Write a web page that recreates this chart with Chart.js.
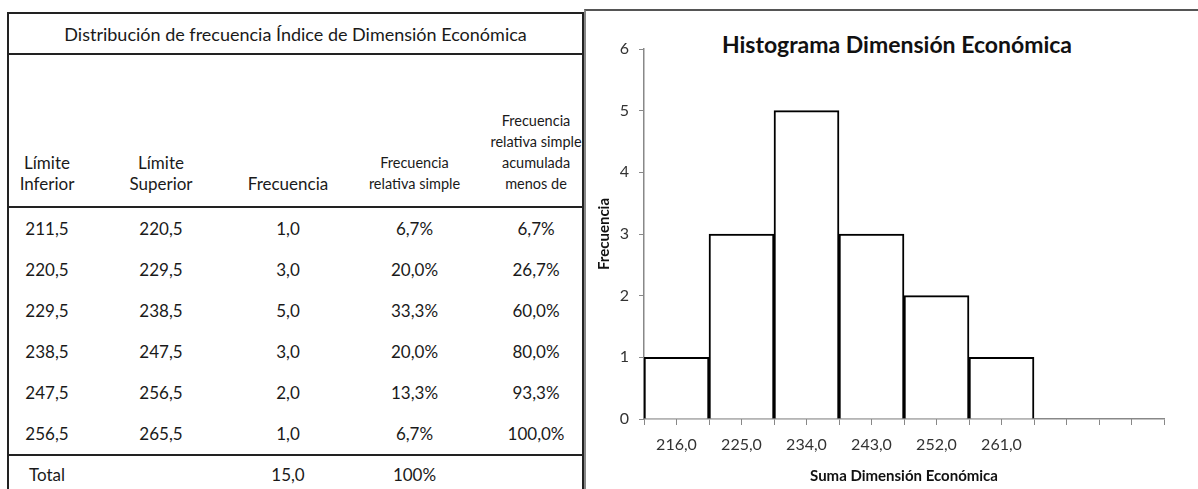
<!DOCTYPE html>
<html>
<head>
<meta charset="utf-8">
<script src="https://cdn.jsdelivr.net/npm/chart.js@4.4.0/dist/chart.umd.min.js"></script>
<style>
  body { margin: 0; background: #fff; width: 1198px; height: 489px; overflow: hidden; position: relative; font-family: "Lato", "Open Sans", sans-serif; color: #1a1a1a; }
  #tabla { position: absolute; left: 7px; top: 12px; width: 575px; table-layout: fixed; border-collapse: collapse; border-left: 2px solid #222; border-right: 2px solid #222; border-top: 2px solid #222; font-size: 17px; }
  #tabla td { text-align: center; padding: 0; white-space: nowrap; }
  #tabla .tit td { height: 39px; border-bottom: 2px solid #222; font-size: 18px; }
  #tabla .cab td { height: 139px; vertical-align: bottom; padding-bottom: 12px; border-bottom: 2px solid #222; line-height: 21px; }
  #tabla .cab td.pq { font-size: 14.5px; }
  #tabla .fila td { height: 41px; }
  #tabla .tot td { height: 32px; vertical-align: top; padding-top: 8px; border-top: 2px solid #222; }
  #panel { position: absolute; left: 584px; top: 9px; width: 614px; height: 480px; border-left: 2px solid #888; border-top: 2px solid #555; }
  #wrap { position: absolute; left: 586px; top: 11px; width: 612px; height: 478px; }
  #titulo { position: absolute; left: 700px; width: 394px; top: 30px; text-align: center; font-size: 23px; font-weight: bold; color: #111; }
</style>
</head>
<body>
<table id="tabla">
  <colgroup>
    <col style="width:77px"><col style="width:152px"><col style="width:102px"><col style="width:151px"><col style="width:93px">
  </colgroup>
  <tbody id="cuerpo">
    <tr class="tit"><td colspan="5">Distribución de frecuencia Índice de Dimensión Económica</td></tr>
    <tr class="cab">
      <td>Límite<br>Inferior</td>
      <td>Límite<br>Superior</td>
      <td>Frecuencia</td>
      <td class="pq">Frecuencia<br>relativa simple</td>
      <td class="pq">Frecuencia<br>relativa simple<br>acumulada<br>menos de</td>
    </tr>
  </tbody>
</table>
<div id="panel"></div>
<div id="titulo">Histograma Dimensión Económica</div>
<div id="wrap"><canvas id="histo"></canvas></div>

<script>
// datos de la tabla
const limiteInferior = ["211,5", "220,5", "229,5", "238,5", "247,5", "256,5"];
const limiteSuperior = ["220,5", "229,5", "238,5", "247,5", "256,5", "265,5"];
const frecuenciaTxt = ["1,0", "3,0", "5,0", "3,0", "2,0", "1,0"];
const relativa = ["6,7%", "20,0%", "33,3%", "20,0%", "13,3%", "6,7%"];
const acumulada = ["6,7%", "26,7%", "60,0%", "80,0%", "93,3%", "100,0%"];

// datos del histograma
const marcasClase = [216, 225, 234, 243, 252, 261];
const frecuencias = [1, 3, 5, 3, 2, 1];
const xCentros = [216, 225, 234, 243, 252, 261, 270, 279];
const xBordes = [211.5, 220.5, 229.5, 238.5, 247.5, 256.5, 265.5, 274.5, 283.5];
const yTicks = [0, 1, 2, 3, 4, 5, 6];

let cuerpo = document.getElementById("cuerpo");
for (let i = 0; i < limiteInferior.length; i++) {
    cuerpo.innerHTML += "<tr class='fila'><td>" + limiteInferior[i] + "</td><td>" + limiteSuperior[i] +
        "</td><td>" + frecuenciaTxt[i] + "</td><td>" + relativa[i] + "</td><td>" + acumulada[i] + "</td></tr>";
}
cuerpo.innerHTML += "<tr class='tot'><td>Total</td><td></td><td>15,0</td><td>100%</td><td></td></tr>";

const fuente = "'Lato', 'Open Sans', sans-serif";

new Chart(document.getElementById("histo"), {
    type: "bar",
    data: {
        datasets: [{
            label: "Frecuencia",
            data: marcasClase.map((m, i) => ({ x: m, y: frecuencias[i] })),
            backgroundColor: "#ffffff",
            borderColor: "#000000",
            borderWidth: 2,
            barPercentage: 1,
            categoryPercentage: 1
        }]
    },
    options: {
        responsive: true,
        maintainAspectRatio: false,
        animation: false,
        layout: { padding: { top: 38, right: 34, left: 0, bottom: 0 } },
        plugins: { legend: { display: false }, tooltip: { enabled: false } },
        scales: {
            x: {
                type: "linear",
                offset: false,
                weight: 1,
                min: 211.5,
                max: 283.5,
                afterBuildTicks: s => { s.ticks = xCentros.map(v => ({ value: v })); },
                afterFit: s => { s.height = 70; },
                grid: { drawOnChartArea: false, tickLength: 6, color: "#888" },
                border: { color: "#888", width: 1.5 },
                ticks: {
                    autoSkip: false,
                    maxRotation: 0,
                    padding: 10,
                    color: "#333",
                    font: { family: fuente, size: 16 },
                    callback: v => marcasClase.includes(v) ? v.toFixed(1).replace(".", ",") : ""
                },
                title: {
                    display: true,
                    text: "Suma Dimensión Económica",
                    color: "#111",
                    font: { family: fuente, size: 15, weight: "bold" },
                    padding: { top: 0, bottom: 4 }
                }
            },
            // eje auxiliar: solo marcas en los bordes de clase
            xb: {
                type: "linear",
                position: "bottom",
                offset: false,
                weight: 0,
                min: 211.5,
                max: 283.5,
                afterBuildTicks: s => { s.ticks = xBordes.map(v => ({ value: v })); },
                afterFit: s => { s.height = 0; },
                grid: { drawOnChartArea: false, tickLength: 6, color: "#888" },
                border: { display: false },
                ticks: { display: false }
            },
            y: {
                min: 0,
                max: 6,
                afterBuildTicks: s => { s.ticks = yTicks.map(v => ({ value: v })); },
                afterFit: s => { s.width = 58; },
                grid: { drawOnChartArea: false, tickLength: 5, color: "#888" },
                border: { color: "#888", width: 1.5 },
                ticks: { padding: 10, color: "#333", font: { family: fuente, size: 16 } },
                title: {
                    display: true,
                    text: "Frecuencia",
                    color: "#111",
                    font: { family: fuente, size: 15, weight: "bold" },
                    padding: { top: 9, bottom: 0 }
                }
            }
        }
    }
});
</script>
</body>
</html>
